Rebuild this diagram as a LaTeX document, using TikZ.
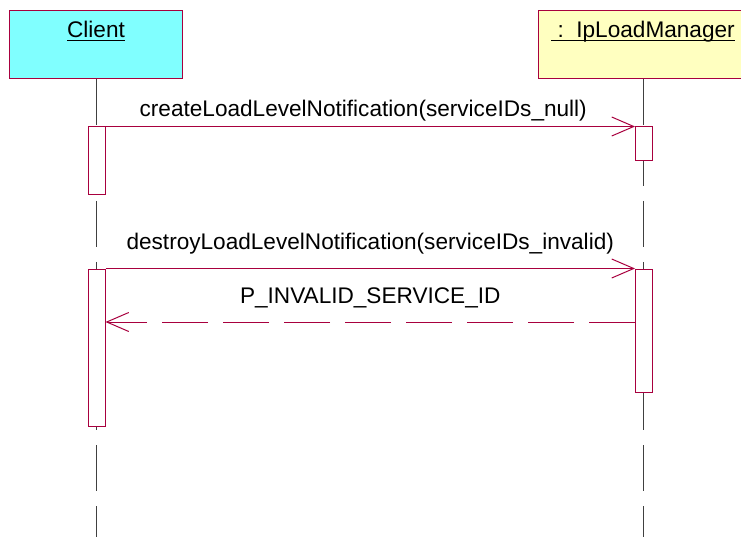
\documentclass[tikz,border=0pt]{standalone}
\usepackage{fontspec}
\setmainfont{Liberation Sans}
\usepackage{xcolor}
\usepackage{tikz}
\usetikzlibrary{arrows.meta,positioning}

\definecolor{seqred}{RGB}{168,0,62}
\definecolor{clientfill}{RGB}{128,255,255}
\definecolor{mgrfill}{RGB}{255,255,192}
\newcommand{\headul}[1]{\setbox0\hbox{#1}\rlap{\rule[-3.5pt]{\wd0}{1.2pt}}\box0}

\begin{document}
\begin{tikzpicture}[
    x=1pt, y=-1pt,
    font=\fontsize{22.6}{27}\selectfont,
    head/.style={draw=seqred, line width=1pt, anchor=north, inner xsep=0pt,
                 inner ysep=5pt, text height=22pt, text depth=36pt},
    act/.style={draw=seqred, fill=white, line width=1pt, minimum width=17pt,
                inner sep=0pt},
    lifeline/.style={draw=black!75, line width=1pt,
                     dash pattern=on 46pt off 15pt},
    msg/.style={draw=seqred, line width=1pt,
                -{Straight Barb[length=22pt,width=19pt,line width=1pt]}},
    ret/.style={msg, dash pattern=on 46pt off 15pt},
    lbl/.style={text=black, text depth=5pt, inner sep=3pt}]
    \useasboundingbox (0,0) rectangle (741,537);
    % object heads
    \node[head, fill=clientfill, minimum width=173pt] (client) at (96,10)
        {\headul{Client}};
    \node[head, fill=mgrfill, minimum width=210pt] (mgr) at (643,10)
        {\headul{\ :\ \ IpLoadManager}};
    \coordinate (clientend) at (96,537);
    \coordinate (mgrend) at (643,537);
    \draw[lifeline] (client.south) -- (clientend);
    \draw[lifeline] (mgr.south) -- (mgrend);
    % activations
    \node[act, minimum height=68pt] (actc1) at (96.5,161) {};
    \node[act, minimum height=34pt] (actm1) at (644,144) {};
    \node[act, minimum height=157pt] (actc2) at (96.5,347.5) {};
    \node[act, minimum height=123pt] (actm2) at (644,330.5) {};
    \coordinate (retrow) at (0,322);
    % messages
    \draw[msg] (actc1.north east) -- (actm1.north west)
        node[lbl, midway, above=1pt, xshift=-7pt] (m1) {createLoadLevelNotification(serviceIDs\_null)};
    \draw[msg] (actc2.north east) -- (actm2.north west)
        node[lbl, midway, above=10pt] (m2) {destroyLoadLevelNotification(serviceIDs\_invalid)};
    \draw[ret] (actm2.west |- retrow) -- (actc2.east |- retrow)
        node[lbl, midway, above=10pt] (r2) {P\_INVALID\_SERVICE\_ID};
\end{tikzpicture}
\end{document}
